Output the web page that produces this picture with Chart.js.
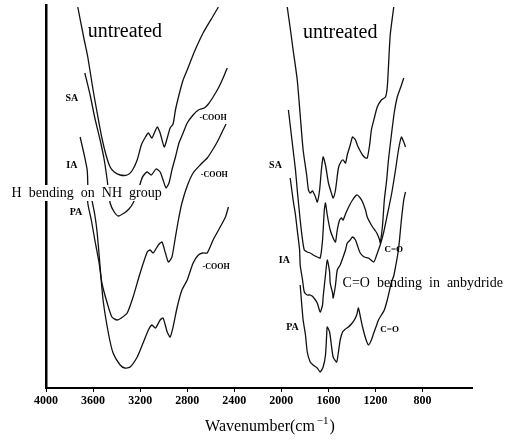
<!DOCTYPE html>
<html><head><meta charset="utf-8">
<script src="https://cdn.jsdelivr.net/npm/chart.js@4"></script>
<style>html,body{margin:0;padding:0;background:#fff}</style>
</head><body>
<canvas id="c" width="507" height="448"></canvas>
<script>
// Tick labels (wavenumber, cm-1)
const tickLabels = [4000, 3600, 3200, 2800, 2400, 2000, 1600, 1200, 800];

// ---- Left panel (4000-2400 cm-1): wavenumber / transmittance (arbitrary units) ----
const leftUntreatedWn = [3730,3675,3645,3600,3565,3525,3490,3455,3420,3370,3310,3270,3225,3190,3155,3130,3100,3055,3030,2995,2970,2945,2920,2900,2870,2835,2790,2740,2665,2585,2535];
const leftUntreatedT  = [381,348,331,298,275,250,233,221,216,213,213,217,228,243,251,255,250,261,255,241,250,260,264,278,293,308,321,336,355,371,381];

const leftSAWn = [3670,3625,3585,3540,3505,3480,3455,3420,3385,3335,3295,3260,3215,3190,3175,3140,3105,3065,3030,3005,2980,2955,2930,2900,2870,2835,2800,2750,2705,2655,2620,2580,2535,2495,2460];
const leftSAT  = [315,293,270,248,228,208,185,176,172,175,179,185,198,208,212,216,213,219,216,208,200,205,218,231,245,255,265,273,278,280,284,291,300,310,320];

const leftIAWn = [3710,3675,3650,3645,3645,3615,3585,3550,3525,3480,3440,3395,3360,3310,3260,3200,3140,3115,3090,3045,3015,2985,2960,2930,2900,2875,2845,2800,2750,2690,2630,2585,2545,2495,2470];
const leftIAT  = [251,233,218,203,185,168,148,126,105,85,71,68,70,75,91,115,136,138,135,143,146,135,126,131,151,168,185,202,215,223,230,238,246,258,264];

const leftPAWn = [3610,3585,3565,3540,3515,3470,3430,3370,3330,3285,3225,3175,3130,3100,3070,3030,3005,2970,2945,2920,2885,2845,2800,2750,2705,2670,2630,2580,2520,2475,2450];
const leftPAT  = [188,173,155,121,88,55,35,23,20,21,31,45,58,63,60,68,70,56,51,61,81,98,108,125,133,135,135,148,161,171,181];

// ---- Right panel (2000-900 cm-1) ----
const rightUntreatedWn = [1950,1925,1900,1865,1840,1815,1785,1770,1755,1735,1710,1695,1675,1660,1645,1625,1600,1575,1560,1540,1515,1490,1475,1455,1440,1415,1395,1370,1355,1330,1310,1285,1270,1250,1235,1210,1185,1150,1115,1100,1090,1075,1045];
const rightUntreatedT  = [381,360,338,308,273,238,213,198,195,197,191,186,198,218,231,223,205,195,190,198,220,227,228,225,233,243,251,248,243,237,233,230,230,243,258,270,281,288,291,301,321,353,381];

const rightSAWn = [1940,1915,1900,1880,1865,1840,1820,1805,1780,1755,1730,1695,1670,1650,1635,1625,1610,1585,1560,1540,1525,1505,1490,1475,1455,1440,1415,1395,1370,1355,1330,1310,1285,1270,1245,1225,1200,1185,1165,1160,1140,1125,1105,1090,1065,1040,1015,985,960];
const rightSAT  = [278,253,238,218,198,168,148,138,136,135,133,131,130,148,178,185,173,158,150,146,158,168,170,168,174,178,184,188,192,193,190,186,178,171,165,161,157,154,148,145,163,188,208,228,253,276,291,301,310];

const rightIAWn = [1925,1900,1880,1865,1845,1840,1820,1805,1780,1755,1730,1695,1670,1650,1645,1625,1610,1590,1585,1565,1560,1540,1525,1500,1475,1455,1440,1415,1395,1370,1355,1330,1295,1260,1215,1190,1175,1160,1130,1100,1065,1030,1005,980,960,945];
const rightIAT  = [210,188,173,158,138,123,108,96,93,93,91,85,76,83,91,113,128,116,105,95,90,103,118,123,131,138,145,148,151,148,143,135,131,130,126,133,138,143,156,173,193,218,238,251,246,241];

const rightPAWn = [1840,1830,1815,1795,1780,1755,1730,1695,1670,1645,1625,1615,1610,1590,1575,1560,1530,1515,1500,1480,1455,1430,1405,1380,1360,1345,1330,1310,1285,1260,1235,1215,1190,1175,1150,1125,1100,1080,1065,1045,1030,1005,980,960,945];
const rightPAT  = [103,88,68,53,36,26,23,20,16,21,33,53,61,56,43,31,26,36,48,56,59,61,64,68,73,80,72,61,50,43,48,55,63,68,73,78,88,98,106,112,121,138,168,188,196];

function pts(wn, t) { return wn.map((w, i) => ({ x: w, y: t[i] })); }

const series = [
  ['untreated', leftUntreatedWn, leftUntreatedT],
  ['SA', leftSAWn, leftSAT],
  ['IA', leftIAWn, leftIAT],
  ['PA', leftPAWn, leftPAT],
  ['untreated', rightUntreatedWn, rightUntreatedT],
  ['SA', rightSAWn, rightSAT],
  ['IA', rightIAWn, rightIAT],
  ['PA', rightPAWn, rightPAT]
];

const datasets = series.map(s => ({
  label: s[0],
  data: pts(s[1], s[2]),
  borderColor: '#111',
  borderWidth: 1.3,
  pointRadius: 0,
  tension: 0.2,
  fill: false
}));

// Text annotations anchored at (wavenumber, transmittance)
const SERIF = '"Liberation Serif", "DejaVu Serif", serif';
const notes = [
  { t: 'untreated', wn: 3330, v: 356, font: '20px ' + SERIF, align: 'center' },
  { t: 'untreated', wn: 1500, v: 355, font: '20px ' + SERIF, align: 'center' },
  { t: 'SA', wn: 3780, v: 290, font: 'bold 10px ' + SERIF, align: 'center' },
  { t: 'IA', wn: 3780, v: 223, font: 'bold 10px ' + SERIF, align: 'center' },
  { t: 'PA', wn: 3745, v: 176, font: 'bold 10px ' + SERIF, align: 'center' },
  { t: '-COOH', wn: 2580, v: 270, font: 'bold 8px ' + SERIF, align: 'center' },
  { t: '-COOH', wn: 2570, v: 213, font: 'bold 8px ' + SERIF, align: 'center' },
  { t: '-COOH', wn: 2555, v: 121, font: 'bold 8px ' + SERIF, align: 'center' },
  { t: 'H  bending  on  NH  group', wn: 3655, v: 195, font: '14px ' + SERIF, align: 'center', bg: true },
  { t: 'SA', wn: 2050, v: 223, font: 'bold 10px ' + SERIF, align: 'center' },
  { t: 'IA', wn: 1975, v: 128, font: 'bold 10px ' + SERIF, align: 'center' },
  { t: 'PA', wn: 1905, v: 61, font: 'bold 10px ' + SERIF, align: 'center' },
  { t: 'C=O', wn: 1045, v: 138, font: 'bold 9px ' + SERIF, align: 'center' },
  { t: 'C=O', wn: 1080, v: 58, font: 'bold 9px ' + SERIF, align: 'center' },
  { t: 'C=O  bending  in  anbydride', wn: 1480, v: 105, font: '14px ' + SERIF, align: 'left' }
];

const annot = {
  id: 'annot',
  afterDatasetsDraw(chart) {
    const c = chart.ctx, xs = chart.scales.x, ys = chart.scales.y;
    c.save();
    c.textBaseline = 'middle';
    notes.forEach(n => {
      const x = xs.getPixelForValue(n.wn), y = ys.getPixelForValue(n.v);
      c.font = n.font;
      c.textAlign = n.align;
      if (n.bg) {
        const w = c.measureText(n.t).width;
        const x0 = n.align === 'center' ? x - w / 2 : x;
        c.fillStyle = '#fff';
        c.fillRect(x0 - 2, y - 8, w + 4, 16);
      }
      c.fillStyle = '#000';
      c.fillText(n.t, x, y);
    });
    // axis title with superscript
    const main = 'Wavenumber(cm', sup = '\u22121', end = ')';
    c.textAlign = 'left';
    c.font = '16px ' + SERIF;
    const w1 = c.measureText(main).width, w3 = c.measureText(end).width;
    c.font = '11px ' + SERIF;
    const w2 = c.measureText(sup).width;
    const cx = (chart.chartArea.left + chart.chartArea.right) / 2 + 11;
    let x = cx - (w1 + w2 + w3 + 3) / 2;
    const y = 427;
    c.font = '16px ' + SERIF; c.fillText(main, x, y); x += w1 + 2;
    c.font = '11px ' + SERIF; c.fillText(sup, x, y - 6); x += w2 + 1;
    c.font = '16px ' + SERIF; c.fillText(end, x, y);
    c.restore();
  }
};

new Chart(document.getElementById('c'), {
  type: 'line',
  data: { datasets },
  options: {
    responsive: false,
    animation: false,
    layout: { padding: { left: 0, right: 35, top: 5, bottom: 0 } },
    plugins: { legend: { display: false }, tooltip: { enabled: false } },
    scales: {
      x: {
        type: 'linear', reverse: true, min: 380, max: 4000,
        afterBuildTicks: s => { s.ticks = tickLabels.map(v => ({ value: v })); },
        afterFit: s => { s.height = 60; },
        ticks: { font: { family: SERIF, weight: 'bold', size: 12 }, color: '#000', padding: 2, maxRotation: 0, autoSkip: false, callback: v => String(v) },
        grid: { display: true, drawOnChartArea: false, drawTicks: true, tickLength: 4, color: '#000', lineWidth: 1 },
        border: { display: true, color: '#000', width: 2 }
      },
      y: {
        min: 0, max: 383,
        afterFit: s => { s.width = 46; },
        ticks: { display: false },
        grid: { display: false },
        border: { display: true, color: '#000', width: 2.5 }
      }
    }
  },
  plugins: [annot]
});
</script>
</body></html>
